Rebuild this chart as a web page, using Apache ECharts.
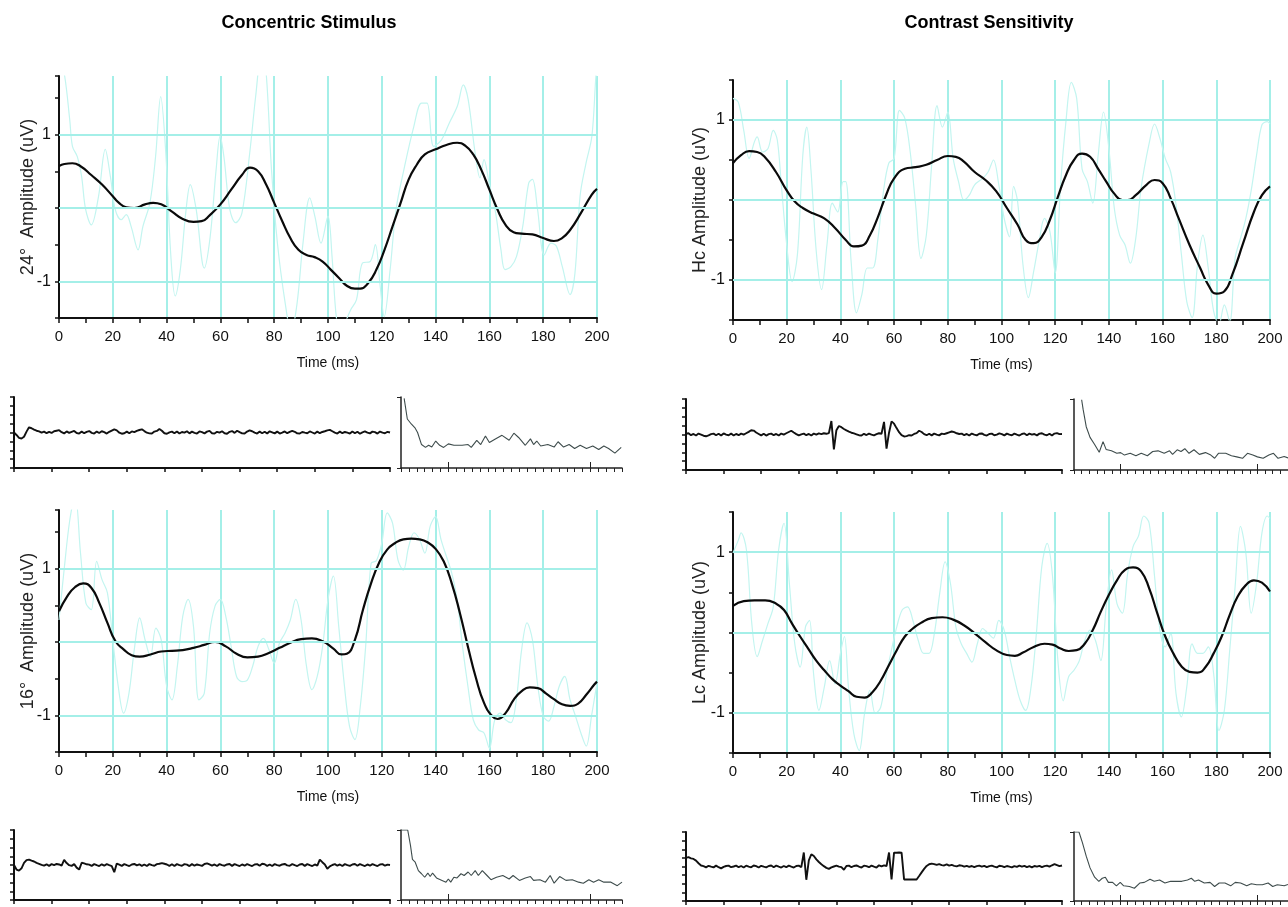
<!DOCTYPE html>
<html><head><meta charset="utf-8">
<script src="https://cdn.jsdelivr.net/npm/echarts/dist/echarts.min.js"></script>
<style>html,body{margin:0;padding:0;background:#fff}#c{width:1288px;height:907px}</style>
</head><body><div id="c"></div>
<script>
// ---------- titles / labels ----------
const columnTitles = ['Concentric Stimulus', 'Contrast Sensitivity'];
const amplitudeNames = ['24°  Amplitude (uV)', 'Hc Amplitude (uV)', '16°  Amplitude (uV)', 'Lc Amplitude (uV)'];
const timeName = 'Time (ms)';
const yLabelValues = [-1, 1];
const hGridValues = [-1, 0, 1];
const yMaxes = [1.8, 1.5, 1.8, 1.5];
const specLongTicks = [6, 24];

// ---------- main panels: smoothed (black) ----------
const black24 = [[0,0.57],[2,0.60],[5,0.61],[8,0.57],[12,0.45],[16,0.32],[20,0.16],[22,0.08],[25,0.01],[28,0.0],[32,0.05],[35,0.07],[38,0.05],[42,-0.05],[46,-0.15],[50,-0.19],[53,-0.18],[56,-0.10],[60,0.05],[64,0.25],[68,0.45],[71,0.55],[74,0.50],[77,0.32],[80,0.07],[83,-0.18],[86,-0.41],[89,-0.57],[92,-0.64],[95,-0.67],[98,-0.73],[101,-0.84],[104,-0.95],[107,-1.06],[110,-1.10],[112,-1.10],[115,-1.02],[118,-0.84],[121,-0.57],[124,-0.25],[127,0.07],[130,0.39],[133,0.59],[136,0.73],[140,0.80],[144,0.86],[148,0.89],[151,0.85],[154,0.73],[157,0.52],[160,0.25],[163,-0.02],[166,-0.23],[169,-0.33],[172,-0.35],[176,-0.36],[180,-0.41],[184,-0.45],[187,-0.41],[190,-0.30],[194,-0.07],[198,0.18],[200,0.26]];
const blackHc = [[0,0.46],[3,0.56],[6,0.61],[9,0.6],[12,0.53],[16,0.35],[20,0.12],[23,-0.02],[26,-0.1],[30,-0.17],[34,-0.23],[38,-0.35],[42,-0.5],[45,-0.58],[48,-0.57],[51,-0.44],[54,-0.21],[57,0.06],[60,0.27],[64,0.39],[68,0.41],[72,0.44],[76,0.5],[80,0.55],[83,0.54],[86,0.48],[90,0.35],[94,0.25],[98,0.11],[102,-0.1],[106,-0.31],[109,-0.5],[112,-0.54],[115,-0.46],[118,-0.25],[121,0.04],[124,0.31],[127,0.5],[130,0.58],[133,0.54],[136,0.39],[139,0.23],[142,0.08],[145,0.0],[147,0.0],[150,0.06],[154,0.19],[157,0.25],[160,0.21],[163,0.02],[166,-0.23],[170,-0.56],[174,-0.85],[177,-1.06],[180,-1.17],[183,-1.14],[186,-0.93],[190,-0.54],[194,-0.15],[197,0.06],[200,0.17]];
const black16 = [[0,0.42],[3,0.62],[6,0.75],[9,0.8],[12,0.74],[15,0.53],[18,0.26],[21,0.01],[24,-0.1],[27,-0.18],[30,-0.2],[34,-0.17],[38,-0.13],[42,-0.12],[46,-0.11],[50,-0.08],[54,-0.04],[58,0.0],[62,-0.06],[66,-0.16],[70,-0.21],[74,-0.2],[78,-0.15],[82,-0.08],[86,-0.01],[90,0.04],[94,0.05],[98,0.01],[102,-0.09],[105,-0.17],[107,-0.16],[110,0.03],[113,0.44],[116,0.8],[119,1.08],[122,1.26],[125,1.35],[128,1.4],[131,1.41],[134,1.4],[137,1.36],[140,1.27],[143,1.1],[146,0.8],[149,0.4],[152,-0.06],[155,-0.49],[158,-0.83],[161,-1.01],[163,-1.05],[166,-0.97],[169,-0.79],[172,-0.67],[175,-0.62],[178,-0.63],[181,-0.7],[184,-0.78],[187,-0.85],[190,-0.87],[193,-0.84],[196,-0.72],[199,-0.58],[200,-0.54]];
const blackLc = [[0,0.33],[4,0.39],[8,0.4],[12,0.4],[16,0.36],[19,0.28],[22,0.11],[25,-0.05],[28,-0.2],[31,-0.35],[34,-0.47],[37,-0.58],[40,-0.66],[43,-0.73],[46,-0.8],[49,-0.81],[52,-0.74],[55,-0.6],[58,-0.41],[61,-0.22],[64,-0.05],[67,0.05],[70,0.12],[74,0.18],[78,0.19],[82,0.16],[86,0.09],[90,-0.01],[94,-0.12],[98,-0.22],[102,-0.28],[105,-0.29],[108,-0.25],[112,-0.18],[116,-0.14],[119,-0.15],[122,-0.2],[125,-0.23],[128,-0.22],[131,-0.14],[134,0.03],[137,0.26],[140,0.47],[143,0.65],[146,0.78],[149,0.81],[152,0.76],[155,0.55],[158,0.24],[161,-0.05],[164,-0.26],[167,-0.42],[170,-0.49],[173,-0.5],[176,-0.43],[179,-0.26],[182,-0.05],[185,0.22],[188,0.45],[191,0.59],[194,0.65],[197,0.62],[200,0.51]];

// ---------- main panels: raw (light cyan) ----------
const raw24 = [[0,2.1],[2.1,1.8],[4,1.2],[5,0.84],[6.8,0.7],[8.4,0.43],[9.9,-0.02],[12,-0.23],[14.7,0.16],[17.2,0.8],[19.1,0.43],[20.9,-0.02],[23.1,-0.16],[25,-0.09],[26.8,-0.25],[29.4,-0.57],[31.2,-0.25],[33.8,0.07],[35.9,0.7],[37.8,1.52],[39.7,0.75],[41.5,-0.61],[43.2,-1.2],[45.1,-0.84],[47.1,-0.07],[48.8,0.32],[51,-0.02],[54,-0.82],[56.2,-0.39],[58.4,0.52],[59.9,0.98],[61.3,0.7],[63.5,-0.02],[65.7,-0.2],[68,-0.07],[70.9,0.75],[73.1,1.52],[75.5,2.2],[77.1,1.8],[79,0.52],[81.2,-0.48],[84.1,-1.3],[86.3,-1.7],[88.5,-1.3],[90.7,-0.48],[93.2,0.14],[95.1,-0.11],[97.4,-0.48],[100,-0.11],[101.5,-0.66],[103.2,-1.52],[105,-1.7],[106.9,-1.52],[108.4,-1.39],[110.6,-1.25],[112.8,-0.75],[115.7,-0.73],[117.6,-0.5],[119.4,-1.07],[120.9,-1.48],[123.1,-0.84],[125.3,-0.02],[128.2,0.52],[131.9,1.11],[134.8,1.43],[136.8,1.43],[139.3,0.84],[142.2,0.93],[145.1,1.16],[148.1,1.39],[150.3,1.68],[152.1,1.48],[154.7,0.75],[156.5,0.41],[158,0.66],[159.9,0.34],[162.1,-0.02],[164.3,-0.57],[165.8,-0.84],[168,-0.8],[170.1,-0.66],[172.4,-0.25],[174.6,0.34],[176,0.39],[177.9,-0.02],[180.4,-0.64],[182.9,-0.48],[184.9,-0.52],[187.1,-0.8],[190,-1.18],[191.8,-0.89],[193.7,0.16],[195.9,0.61],[198.1,0.98],[199.6,1.8],[200,1.9]];
const rawHc = [[0,1.27],[2,1.22],[4,0.87],[6,0.52],[8,0.73],[9,0.79],[11,0.6],[13,0.64],[15,0.87],[16.5,0.75],[18,0.19],[20,-0.56],[22,-1.02],[24,-0.68],[26,0.56],[27.5,0.91],[29,0.39],[31,-0.64],[33,-1.12],[35,-0.56],[37,-0.04],[39,-0.15],[41,0.23],[42,0.23],[44,-0.77],[46,-1.41],[48,-1.18],[50,-0.85],[52,-0.85],[54,-0.48],[56,0.1],[58,0.46],[60,0.52],[62,1.12],[64,1.02],[66,0.6],[68,-0.06],[70,-0.73],[72,-0.44],[74,0.44],[76,1.18],[78,0.91],[80,1.1],[82,0.52],[84,0.23],[86,0.0],[88,0.06],[90,0.19],[93,0.27],[95,0.35],[97,0.5],[99,0.19],[101,-0.23],[103,-0.46],[104.5,0.17],[106,-0.02],[108,-0.81],[110,-1.22],[112,-0.89],[114,-0.52],[116,-0.23],[118,-0.39],[120,-0.91],[122,0.19],[124,0.98],[126,1.47],[128,1.27],[130,0.39],[132,0.23],[134,-0.04],[136,0.56],[138,1.1],[140,0.64],[142,-0.1],[144,-0.44],[146,-0.56],[148,-0.79],[150,-0.48],[152,0.15],[155,0.71],[157,0.95],[159,0.77],[161,0.52],[163,0.35],[165,-0.06],[167,-0.68],[169,-1.27],[171,-1.47],[173,-0.81],[175,-0.44],[177,-0.85],[179,-1.39],[181,-1.55],[183,-1.31],[185,-1.52],[187,-0.73],[189,-0.48],[191,-0.23],[193,0.12],[195,0.56],[197,0.94],[199,0.98],[200,0.95]];
const raw16 = [[0,0.3],[2,1.02],[4,1.66],[6,2.0],[8,1.21],[10,0.53],[12,0.44],[14,1.1],[16,0.85],[18,0.67],[20,0.03],[22,-0.6],[24,-0.97],[26,-0.7],[28,-0.1],[30,0.33],[32,0.03],[34,-0.2],[36,0.19],[38,0.03],[40,-0.6],[42,-0.79],[44,-0.33],[46,0.35],[48,0.58],[50,0.21],[52,-0.79],[54,-0.7],[56,0.12],[58,0.49],[60,0.58],[62,0.35],[64,-0.06],[66,-0.47],[68,-0.54],[70,-0.52],[72,-0.33],[74,-0.06],[76,0.05],[78,-0.1],[80,-0.29],[82,-0.01],[84,0.12],[86,0.3],[88,0.58],[90,0.3],[92,-0.33],[94,-0.65],[96,-0.47],[98,-0.06],[100,0.58],[102,0.9],[104,0.21],[106,-0.56],[108,-1.15],[110,-1.33],[112,-0.88],[114,-0.06],[116,1.07],[118,1.11],[120,1.35],[122,1.76],[124,1.62],[126,1.12],[128,0.98],[130,1.3],[132,1.49],[134,1.4],[136,1.21],[138,1.58],[140,1.71],[142,1.4],[144,1.17],[146,0.94],[148,0.58],[150,-0.06],[152,-0.6],[154,-1.06],[156,-1.2],[158,-1.24],[160,-1.45],[162,-1.06],[164,-0.97],[166,-1.06],[168,-1.1],[170,-0.79],[172,-0.1],[174,0.26],[176,0.03],[178,-0.6],[180,-1.01],[182,-1.08],[184,-0.88],[186,-0.6],[188,-0.47],[190,-0.79],[192,-1.01],[194,-1.24],[196,-1.42],[198,-1.0],[200,-0.56]];
const rawLc = [[0,0.99],[2,1.15],[3,1.24],[5,1.03],[7,0.11],[9,-0.3],[11,-0.1],[13,0.11],[15,0.32],[17,1.03],[19,1.36],[21,0.61],[23,-0.14],[25,-0.43],[27,0.07],[28.5,0.15],[30,-0.51],[32,-0.97],[34,-0.68],[36,-0.35],[38,-0.64],[40,-0.26],[41.5,-0.05],[43,-0.68],[45,-1.26],[47,-1.47],[49,-1.01],[51,-0.72],[53,-1.01],[55,-0.93],[57,-0.55],[59,-0.22],[61,0.07],[63,0.28],[65,0.32],[67,0.15],[69,-0.1],[71,-0.26],[73,-0.26],[75,-0.01],[77,0.49],[79,0.88],[81,0.61],[83,0.07],[85,-0.14],[87,-0.26],[89,-0.37],[91,-0.14],[93,0.05],[95,-0.01],[97,-0.07],[99,0.15],[101,0.03],[103,-0.3],[105,-0.6],[107,-0.85],[109,-0.97],[111,-0.68],[113,-0.01],[115,0.82],[117,1.11],[119,0.7],[121,-0.35],[123,-0.85],[125,-0.55],[127,-0.47],[129,-0.35],[131,-0.1],[133,0.03],[135,-0.1],[137,-0.35],[139,0.32],[141,0.78],[143,0.36],[145,0.24],[147,0.74],[149,1.07],[151,1.2],[153,1.45],[155,1.36],[157,0.7],[159,0.03],[161,-0.18],[163,-0.01],[165,-0.76],[167,-1.05],[169,-0.68],[171,-0.14],[173,-0.26],[175,-0.26],[177,-0.18],[179,-0.51],[181,-1.22],[183,-0.97],[185,-0.22],[187,0.57],[189,1.32],[191,0.99],[193,0.24],[195,0.61],[197,1.24],[199,1.45],[200,1.42]];

// ---------- small recording traces (151 samples each) ----------
const trace24 = [400,372,340,332,352,410,458,448,432,420, 412,398,410,392,406,395,414,420,426,404, 390,412,396,408,418,394,388,410,392,406, 416,396,388,410,394,414,404,388,408,422, 436,424,398,386,392,410,392,412,404,418, 428,436,416,398,390,388,410,418,440,420, 392,386,402,410,392,412,388,406,398,414, 390,410,396,388,412,404,390,410,418,392, 388,408,398,414,392,386,408,416,396,420, 404,390,388,410,424,414,398,388,410,392, 408,388,414,402,390,410,388,398,412,392, 406,418,408,390,388,406,398,392,412,400, 388,410,392,406,414,424,430,414,398,388, 410,392,406,398,388,412,392,408,386,402, 412,398,390,410,404,388,410,398,392,408, 400];
const traceHc = [408,414,392,406,388,410,398,386,380,390, 404,410,392,408,388,412,398,392,410,388, 406,392,410,398,414,430,448,444,422,406, 390,408,388,404,410,392,406,388,410,398, 414,428,442,422,404,390,402,410,392,406, 388,410,398,412,404,414,408,416,552,232, 448,496,482,462,446,432,420,412,402,392, 388,408,394,410,398,390,404,414,408,542, 240,420,548,522,472,426,392,378,382,392, 388,406,416,442,428,404,392,408,390,410, 398,390,410,404,414,424,434,426,414,406, 410,392,406,388,410,398,390,408,412,396, 388,406,410,392,398,412,404,390,410,398, 392,410,398,388,406,412,392,410,398,406, 390,410,414,398,392,408,388,410,416,404, 406];
const trace16 = [400,348,336,362,424,456,462,450,440,424, 414,402,392,408,390,410,398,412,406,392, 458,422,398,390,410,370,348,426,418,408, 404,390,410,398,388,408,392,410,398,388, 318,416,404,390,410,398,388,406,412,396, 408,390,406,388,410,398,392,410,414,422, 414,406,390,408,388,410,398,392,410,404, 388,410,392,406,398,390,412,418,406,392, 406,388,410,398,392,406,412,390,410,398, 388,406,392,410,398,388,406,410,392,414, 408,390,406,388,410,398,392,406,412,396, 392,410,398,388,406,412,390,410,398,388, 406,392,462,432,406,358,384,400,410,392, 406,388,410,398,390,406,412,392,410,398, 388,406,392,410,398,388,406,410,392,404, 400];
const traceLc = [500,508,494,488,468,438,412,404,390,408, 398,390,410,392,378,396,406,410,392,400, 410,392,406,388,410,398,390,412,404,388, 408,398,390,406,412,392,410,398,388,406, 392,410,398,388,406,410,392,562,246,470, 542,522,482,452,426,404,384,372,390,400, 410,398,392,362,406,410,392,406,412,398, 388,410,404,392,410,398,388,414,402,414, 406,562,250,560,560,562,560,250,250,250, 250,250,250,290,332,372,406,426,434,428, 418,428,416,412,424,410,418,408,402,414, 410,398,408,396,406,392,404,410,398,408, 392,404,410,398,390,408,404,392,406,398, 390,404,396,410,398,408,392,404,390,406, 398,408,392,404,410,398,414,428,416,404, 412];

// ---------- small spectra ----------
const spec24 = [[0.4,9.8],[0.8,6.9],[1.3,6.2],[1.8,5.6],[2.1,5.0],[2.6,3.3],[3.1,2.9],[3.5,3.2],[3.9,2.95],[4.4,3.8],[4.9,3.2],[5.4,2.9],[6.0,3.4],[6.7,3.2],[7.75,3.2],[8.5,3.3],[8.9,2.9],[9.6,3.9],[10.1,3.3],[10.7,4.5],[11.2,3.6],[11.9,4.05],[12.8,4.6],[13.7,3.9],[14.3,4.9],[14.9,4.3],[15.75,3.2],[16.4,4.1],[16.8,3.3],[17.2,3.8],[17.7,3.1],[18.6,3.3],[19.4,2.95],[19.9,3.7],[20.6,2.95],[21.3,3.3],[22.0,2.75],[22.7,3.2],[23.5,2.75],[24.3,3.1],[25.05,2.6],[25.7,3.1],[26.3,2.75],[27.1,2.1],[27.9,2.9]];
const specHc = [[1.0,9.9],[1.2,8.5],[1.6,6.1],[2.1,4.6],[2.7,3.6],[3.3,2.5],[3.8,4.0],[4.2,2.9],[4.9,2.7],[5.6,2.35],[6.1,2.45],[6.6,2.1],[7.35,2.35],[8.1,2.0],[8.8,2.35],[9.6,2.0],[10.3,2.6],[11.0,2.7],[11.8,2.35],[12.5,2.7],[12.9,2.2],[13.5,2.85],[14.0,2.6],[14.5,3.0],[15.05,2.35],[15.7,2.85],[16.4,2.2],[17.2,2.45],[17.9,2.1],[18.4,1.65],[18.9,2.35],[19.85,2.35],[20.6,2.0],[21.3,1.85],[22.05,1.65],[22.7,2.35],[23.4,2.1],[24.0,1.85],[24.75,1.65],[25.5,2.1],[26.1,2.35],[26.7,1.65],[27.5,1.9],[28,1.7]];
const spec16 = [[0,10],[0.85,10],[1.2,7.8],[1.45,5.8],[1.8,5.4],[2.2,4.2],[2.6,3.75],[3.0,3.25],[3.4,3.85],[3.7,3.35],[4.0,3.85],[4.5,3.15],[5.2,2.8],[5.7,2.55],[6.0,3.0],[6.3,2.55],[6.7,3.25],[7.1,3.15],[7.6,3.75],[8.0,3.5],[8.5,4.0],[8.9,3.5],[9.4,4.2],[9.8,3.5],[10.3,4.2],[10.9,3.5],[11.4,2.9],[12.1,3.25],[12.9,3.5],[13.7,3.0],[14.2,3.5],[15.0,2.8],[15.75,3.15],[16.4,3.35],[16.8,2.8],[17.6,2.9],[18.3,2.55],[18.9,3.5],[19.4,2.4],[20.1,3.35],[20.9,2.8],[21.7,2.9],[22.5,2.55],[23.1,2.4],[23.8,2.9],[24.4,2.55],[25.05,2.9],[25.7,2.55],[26.6,2.55],[27.4,2.05],[28,2.55]];
const specLc = [[0,10],[0.65,10],[1.1,8.45],[1.6,6.5],[2.1,4.8],[2.7,3.45],[3.25,2.85],[3.7,3.3],[4.1,3.45],[4.5,2.7],[5.05,2.7],[5.55,2.2],[6.05,2.7],[6.5,2.2],[7.25,2.1],[7.9,1.85],[8.6,2.6],[9.2,2.7],[9.95,3.15],[10.5,2.85],[11.2,3.05],[11.9,2.6],[12.65,2.85],[13.4,2.85],[14.1,2.85],[14.85,3.05],[15.35,3.3],[15.8,2.85],[16.3,3.05],[17.05,2.6],[17.8,2.7],[18.4,2.1],[19.0,2.6],[19.75,2.6],[20.5,2.2],[21.1,2.7],[21.8,2.6],[22.6,2.2],[23.2,2.5],[23.9,2.35],[24.65,2.35],[25.4,2.6],[26.0,2.1],[26.6,2.35],[27.5,2.2],[28,2.4]];

// ---------- build ----------
const GRID_C = '#a4efe8';
const RAW_C = '#c3f5f0';
const AX_C = '#111';
const SANS = '"Liberation Sans",Arial,sans-serif';

const mainRects = [
  {left:59, top:76, width:538, height:242},
  {left:733, top:80, width:537, height:240},
  {left:59, top:510, width:538, height:242},
  {left:733, top:512, width:537, height:241}
];
const nameGaps = [22, 24, 22, 24];
const blacks = [black24, blackHc, black16, blackLc];
const raws = [raw24, rawHc, raw16, rawLc];
const traceRects = [
  {left:14, top:397, width:376, height:71},
  {left:686, top:399, width:376, height:71},
  {left:14, top:830, width:376, height:70},
  {left:686, top:832, width:376, height:69}
];
const traces = [trace24, traceHc, trace16, traceLc];
const specRects = [
  {left:401, top:397, width:221, height:71},
  {left:1074, top:399, width:224, height:71},
  {left:401, top:830, width:221, height:70},
  {left:1074, top:832, width:224, height:69}
];
const specs = [spec24, specHc, spec16, specLc];

const grid = [], xAxis = [], yAxis = [], series = [];
function addGrid(r){ grid.push(Object.assign({containLabel:false}, r)); return grid.length-1; }

for (let i=0;i<4;i++){
  const g = addGrid(mainRects[i]);
  xAxis.push({gridIndex:g, type:'value', min:0, max:200, interval:20,
    axisLine:{show:true, onZero:false, lineStyle:{color:AX_C, width:2}},
    axisTick:{show:true, length:5, lineStyle:{color:AX_C, width:1.5}},
    minorTick:{show:true, splitNumber:2, length:5, lineStyle:{color:AX_C, width:1.5}},
    splitLine:{show:true, lineStyle:{color:GRID_C, width:2}},
    axisLabel:{fontFamily:SANS, fontSize:15, color:'#111', margin:11},
    name:timeName, nameLocation:'middle', nameGap:38, nameMoveOverlap:false,
    nameTextStyle:{fontFamily:SANS, fontSize:14, color:'#111'}
  });
  const xi = xAxis.length-1;
  yAxis.push({gridIndex:g, type:'value', min:-1.5, max:yMaxes[i], interval:0.5,
    axisLine:{show:true, onZero:false, lineStyle:{color:AX_C, width:2}},
    axisTick:{show:true, length:4, lineStyle:{color:AX_C, width:1.5}},
    splitLine:{show:false},
    axisLabel:{fontFamily:SANS, fontSize:16, color:'#111', margin:8,
      formatter:v => yLabelValues.indexOf(Math.round(v*100)/100) >= 0 ? String(Math.round(v)) : ''},
    name:amplitudeNames[i], nameLocation:'middle', nameRotate:90, nameGap:nameGaps[i], nameMoveOverlap:false,
    nameTextStyle:{fontFamily:SANS, fontSize:18, color:'#222'}
  });
  const yi = yAxis.length-1;
  series.push({type:'line', xAxisIndex:xi, yAxisIndex:yi, data:raws[i], smooth:0.35,
    showSymbol:false, clip:true, z:2, lineStyle:{color:RAW_C, width:1.2}, silent:true,
    markLine:{silent:true, symbol:'none', label:{show:false}, animation:false,
      lineStyle:{color:GRID_C, type:'solid', width:2},
      data: hGridValues.map(v => ({yAxis:v}))}
  });
  series.push({type:'line', xAxisIndex:xi, yAxisIndex:yi, data:blacks[i], smooth:0.5,
    showSymbol:false, clip:true, z:4, lineStyle:{color:'#0a0a0a', width:2.2}, silent:true});
}

for (let i=0;i<4;i++){
  const g = addGrid(traceRects[i]);
  xAxis.push({gridIndex:g, type:'value', min:0, max:150, interval:15,
    axisLine:{show:true, onZero:false, lineStyle:{color:AX_C, width:2}},
    axisTick:{show:true, length:4, lineStyle:{color:AX_C, width:1.5}},
    splitLine:{show:false}, axisLabel:{show:false}});
  const xi = xAxis.length-1;
  yAxis.push({gridIndex:g, type:'value', min:0, max:800, interval:100,
    axisLine:{show:true, onZero:false, lineStyle:{color:AX_C, width:2}},
    axisTick:{show:true, length:4, lineStyle:{color:AX_C, width:1.5}},
    splitLine:{show:false}, axisLabel:{show:false}});
  const yi = yAxis.length-1;
  series.push({type:'line', xAxisIndex:xi, yAxisIndex:yi, data:traces[i].map((v,k)=>[k,v]),
    showSymbol:false, clip:true, lineStyle:{color:'#111', width:1.9}, silent:true});
}

for (let i=0;i<4;i++){
  const g = addGrid(specRects[i]);
  xAxis.push({gridIndex:g, type:'value', min:0, max:28, interval:1, position:'bottom',
    axisLine:{show:true, onZero:false, lineStyle:{color:'#222', width:1.5}},
    axisTick:{show:true, length:4, lineStyle:{color:'#222', width:1}},
    splitLine:{show:false}, axisLabel:{show:false}});
  const xi = xAxis.length-1;
  xAxis.push({gridIndex:g, type:'value', min:0, max:28, position:'bottom',
    axisLine:{show:false},
    axisTick:{show:true, inside:true, length:6, customValues:specLongTicks, lineStyle:{color:'#222', width:1}},
    splitLine:{show:false}, axisLabel:{show:false}});
  yAxis.push({gridIndex:g, type:'value', min:0, max:10, interval:10,
    axisLine:{show:true, onZero:false, lineStyle:{color:'#222', width:1.5}},
    axisTick:{show:true, length:4, lineStyle:{color:'#222', width:1}},
    splitLine:{show:false}, axisLabel:{show:false}});
  const yi = yAxis.length-1;
  series.push({type:'line', xAxisIndex:xi, yAxisIndex:yi, data:specs[i],
    showSymbol:false, clip:true, lineStyle:{color:'#3e4c4c', width:1.1}, silent:true});
}

const chart = echarts.init(document.getElementById('c'), null, {renderer:'canvas'});
chart.setOption({
  animation:false,
  backgroundColor:'#fff',
  graphic: [
    {type:'text', x:309, y:23, style:{text:columnTitles[0], align:'center', verticalAlign:'middle', fill:'#000', font:'bold 18px "Liberation Sans", Arial, sans-serif'}},
    {type:'text', x:989, y:23, style:{text:columnTitles[1], align:'center', verticalAlign:'middle', fill:'#000', font:'bold 18px "Liberation Sans", Arial, sans-serif'}}
  ],
  grid, xAxis, yAxis, series
});
</script>
</body></html>
